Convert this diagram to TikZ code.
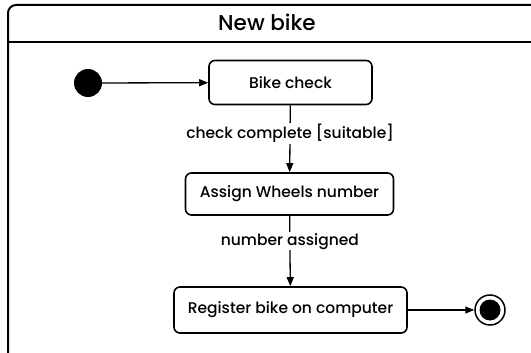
\documentclass[tikz,border=0pt]{standalone}
\usepackage{fontspec}
\setmainfont{Poppins}[UprightFont={* Medium}]
\usetikzlibrary{arrows.meta, positioning}
\definecolor{ink}{HTML}{000000}

\begin{document}
\begin{tikzpicture}[
    x=1pt, y=-1pt,
    every node/.style={font=\fontsize{15.5}{18}\selectfont, text=ink},
    arr/.style={-{Triangle[length=9pt, width=7pt]}, line width=1.3pt, color=ink},
    lab/.style={font=\fontsize{15.5}{18}\selectfont, fill=white, inner sep=1pt},
    state/.style={
        rectangle, rounded corners=6pt, draw=ink, line width=1.6pt,
        minimum height=44pt, align=center, inner sep=0pt,
    },
]
\useasboundingbox (0,0) rectangle (531,353);
\clip (0,0) rectangle (531,353);

% ================================================================ frame
\draw[ink, line width=2pt, rounded corners=8pt] (8,5) rectangle (545,368);
\draw[ink, line width=2pt] (8,42) -- (545,42);
\node (title) at (267,22) {\fontsize{21.5}{24}\selectfont New bike};

% ================================================================ states
\node[circle, fill=ink, minimum size=28pt, inner sep=0pt] (start) at (88,83) {};
\node[state, minimum width=163pt] (check) at (290.5,82.5) {Bike check};
\node[state, minimum width=208pt, minimum height=42pt] (assign) at (289.5,194) {Assign Wheels number};
\node[state, minimum width=233pt, minimum height=46pt] (register) at (290.5,310) {Register bike on computer};
\node[circle, draw=ink, line width=1.5pt, minimum size=30pt, inner sep=0pt] (stop) at (490,310) {};
\node[circle, fill=ink, minimum size=21pt, inner sep=0pt] at (stop) {};

% ================================================================ transitions
\draw[arr] (start) -- (check);
\draw[arr] (check) -- node[lab, pos=0.42] (guard) {check complete [suitable]} (assign);
\draw[arr] (assign) -- node[lab, pos=0.36] (done) {number assigned} (register);
\draw[arr] (register) -- (stop);

\end{tikzpicture}
\end{document}
